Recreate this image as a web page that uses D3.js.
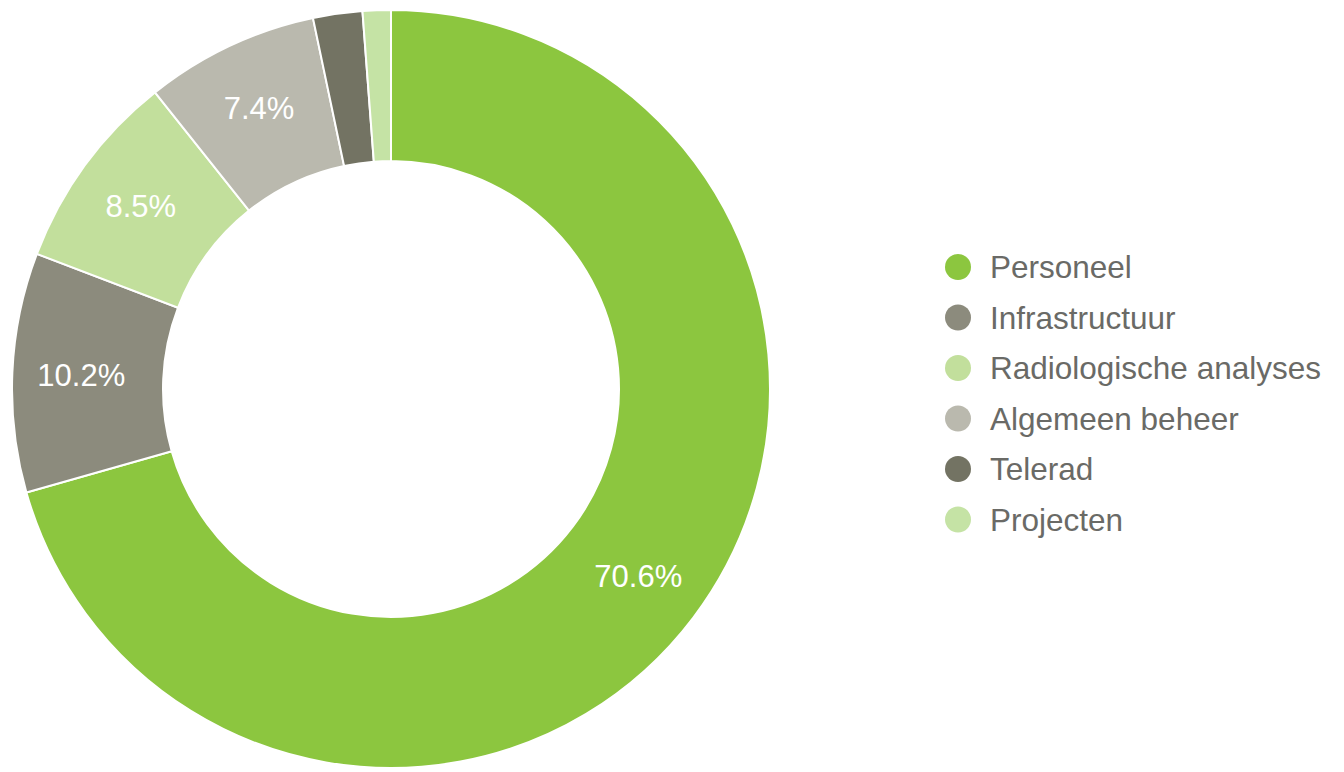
<!DOCTYPE html>
<html>
<head>
<meta charset="utf-8">
<script src="https://cdn.jsdelivr.net/npm/d3@7"></script>
<style>
  html, body { margin: 0; padding: 0; background: #ffffff; }
  svg { display: block; font-family: "Liberation Sans", Arial, sans-serif; }
</style>
</head>
<body>
<div id="chart"></div>
<script>
// 数据
const categories = ["Personeel", "Infrastructuur", "Radiologische analyses", "Algemeen beheer", "Telerad", "Projecten"];
const values = [70.6, 10.2, 8.5, 7.4, 2.1, 1.2];
const labels = ["70.6%", "10.2%", "8.5%", "7.4%", "", ""];
const colors = ["#8cc63f", "#8c8b7d", "#c2df9c", "#bab9ae", "#737363", "#c5e3a5"];

const width = 1344;
const height = 772;
const cx = 391, cy = 389;
const outerR = 379, innerR = 228;

const svg = d3.select("#chart").append("svg")
    .attr("width", width)
    .attr("height", height);

const g = svg.append("g")
    .attr("transform", `translate(${cx}, ${cy})`);

const pie = d3.pie().sort(null).value(d => d.value);
const data = categories.map((c, i) => ({ name: c, value: values[i], label: labels[i], color: colors[i] }));
const arcs = pie(data);

const arc = d3.arc().innerRadius(innerR).outerRadius(outerR);
const labelArc = d3.arc().innerRadius(310).outerRadius(310);

// 扇区
g.selectAll("path.slice")
    .data(arcs)
    .enter()
    .append("path")
    .attr("class", "slice")
    .attr("d", arc)
    .attr("fill", d => d.data.color)
    .attr("stroke", "#ffffff")
    .attr("stroke-width", 2);

// 百分比标签
g.selectAll("text.pct")
    .data(arcs.filter(d => d.data.label))
    .enter()
    .append("text")
    .attr("class", "pct")
    .attr("transform", d => `translate(${labelArc.centroid(d)})`)
    .attr("text-anchor", "middle")
    .attr("dy", "0.35em")
    .attr("fill", "#ffffff")
    .style("font-size", "31px")
    .text(d => d.data.label);

// 图例
const legend = svg.append("g")
    .attr("transform", "translate(958, 267)");

const rowH = 50.5;
const rows = legend.selectAll("g.row")
    .data(data)
    .enter()
    .append("g")
    .attr("class", "row")
    .attr("transform", (d, i) => `translate(0, ${i * rowH})`);

rows.append("circle")
    .attr("r", 13)
    .attr("fill", d => d.color);

rows.append("text")
    .attr("x", 32)
    .attr("dy", "0.35em")
    .attr("fill", "#6a6a66")
    .style("font-size", "31.5px")
    .text(d => d.name);
</script>
</body>
</html>
